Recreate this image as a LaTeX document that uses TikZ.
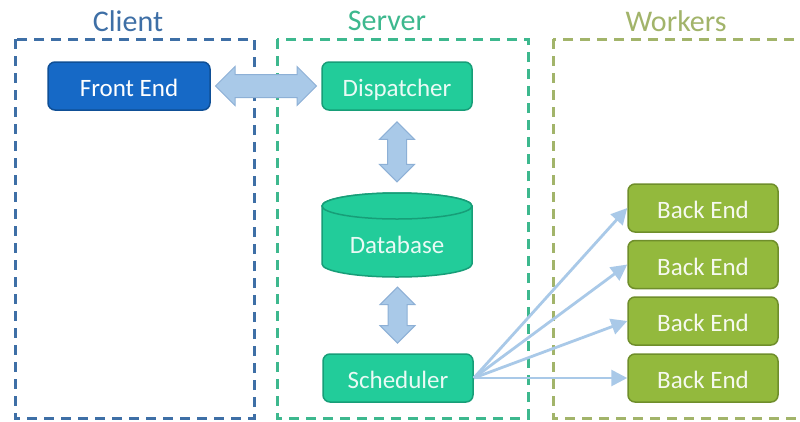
\documentclass[tikz,border=0pt]{standalone}
\usepackage{fontspec}
\setmainfont{Carlito}
\usetikzlibrary{shapes.geometric,shapes.arrows,arrows.meta}

\definecolor{clientc}{HTML}{3E6FA6}
\definecolor{serverc}{HTML}{3DB88E}
\definecolor{workerc}{HTML}{A2B46A}
\definecolor{feFill}{HTML}{1669C6}
\definecolor{feDraw}{HTML}{0F4F96}
\definecolor{tealFill}{HTML}{22CC9A}
\definecolor{tealDraw}{HTML}{179E78}
\definecolor{beFill}{HTML}{93B93D}
\definecolor{beDraw}{HTML}{6F8E2B}
\definecolor{arrFill}{HTML}{A9C9E8}
\definecolor{arrDraw}{HTML}{8DB0D6}

\tikzset{
  zone/.style={draw=#1, line width=3pt, dash pattern=on 10pt off 7pt},
  zonetitle/.style={text=#1, font=\fontsize{30}{32}\selectfont, inner sep=0pt},
  labelfont/.style={font=\fontsize{25}{27}\selectfont, text height=23pt, text depth=2pt},
  boxnode/.style={rounded corners=7pt, line width=1.5pt, minimum height=48pt,
    labelfont, inner sep=0pt},
  frontbox/.style={boxnode, draw=feDraw, fill=feFill, text=white, minimum width=162pt},
  serverbox/.style={boxnode, draw=tealDraw, fill=tealFill, text=white!90!tealFill, minimum width=150pt},
  backbox/.style={boxnode, draw=beDraw, fill=beFill, text=white!92!beFill, minimum width=150pt},
  bigarrow/.style={double arrow, draw=arrDraw, fill=arrFill, line width=1pt,
    inner xsep=0pt, double arrow head extend=8pt},
  feed/.style={draw=arrFill, line width=2.8pt,
    -{Triangle[length=16pt,width=16pt,fill=arrFill]}}
}

\begin{document}
\begin{tikzpicture}[x=1pt,y=-1pt]
  \useasboundingbox (0,0) rectangle (800,421);
  \clip (0,0) rectangle (800,421);
  \fill[white] (0,0) rectangle (800,421);

  % zones
  \draw[zone=clientc] (15,39) rectangle (254,418);
  \draw[zone=serverc] (277,39) rectangle (528,418);
  \draw[zone=workerc] (553,39) rectangle (830,418);
  \node[zonetitle=clientc] (tclient) at (128,21) {Client};
  \node[zonetitle=serverc] (tserver) at (387,21) {Server};
  \node[zonetitle=workerc] (tworkers) at (676,21) {Workers};

  % components
  \node[frontbox] (front) at (129,86) {Front End};
  \node[serverbox] (disp) at (397,86) {Dispatcher};
  \node[serverbox] (sched) at (398,378) {Scheduler};

  % database cylinder
  \fill[tealFill, draw=tealDraw, line width=1.5pt]
    (322,206) -- (322,264) arc[start angle=180, end angle=0, x radius=75, y radius=13]
    -- (472,206) arc[start angle=0, end angle=-180, x radius=75, y radius=13] -- cycle;
  \draw[tealDraw, line width=1.5pt, fill=tealFill] (397,206) ellipse[x radius=75, y radius=13];
  \node[labelfont, text=white!90!tealFill, inner sep=0pt] (db) at (397,243) {Database};
  \coordinate (dbtop) at (397,193);
  \coordinate (dbbot) at (397,277);

  % worker back ends
  \foreach \i/\y in {1/208, 2/264.5, 3/321, 4/378} {
    \node[backbox] (be\i) at (703,\y) {Back End};
  }

  % two-way links
  \path (front.east) -- (disp.west)
    node[midway, bigarrow, inner ysep=11pt, minimum height=101pt] (a1) {};
  \path (disp.south) -- (dbtop)
    node[midway, bigarrow, rotate=90, inner ysep=9pt, minimum height=60pt] (a2) {};
  \path (dbbot) -- (sched.north)
    node[midway, bigarrow, rotate=90, inner ysep=9pt, minimum height=56pt] (a3) {};

  % job dispatch to workers
  \foreach \i in {1,2,3,4} {
    \draw[feed] (sched.east) -- (be\i.west);
  }
\end{tikzpicture}
\end{document}
